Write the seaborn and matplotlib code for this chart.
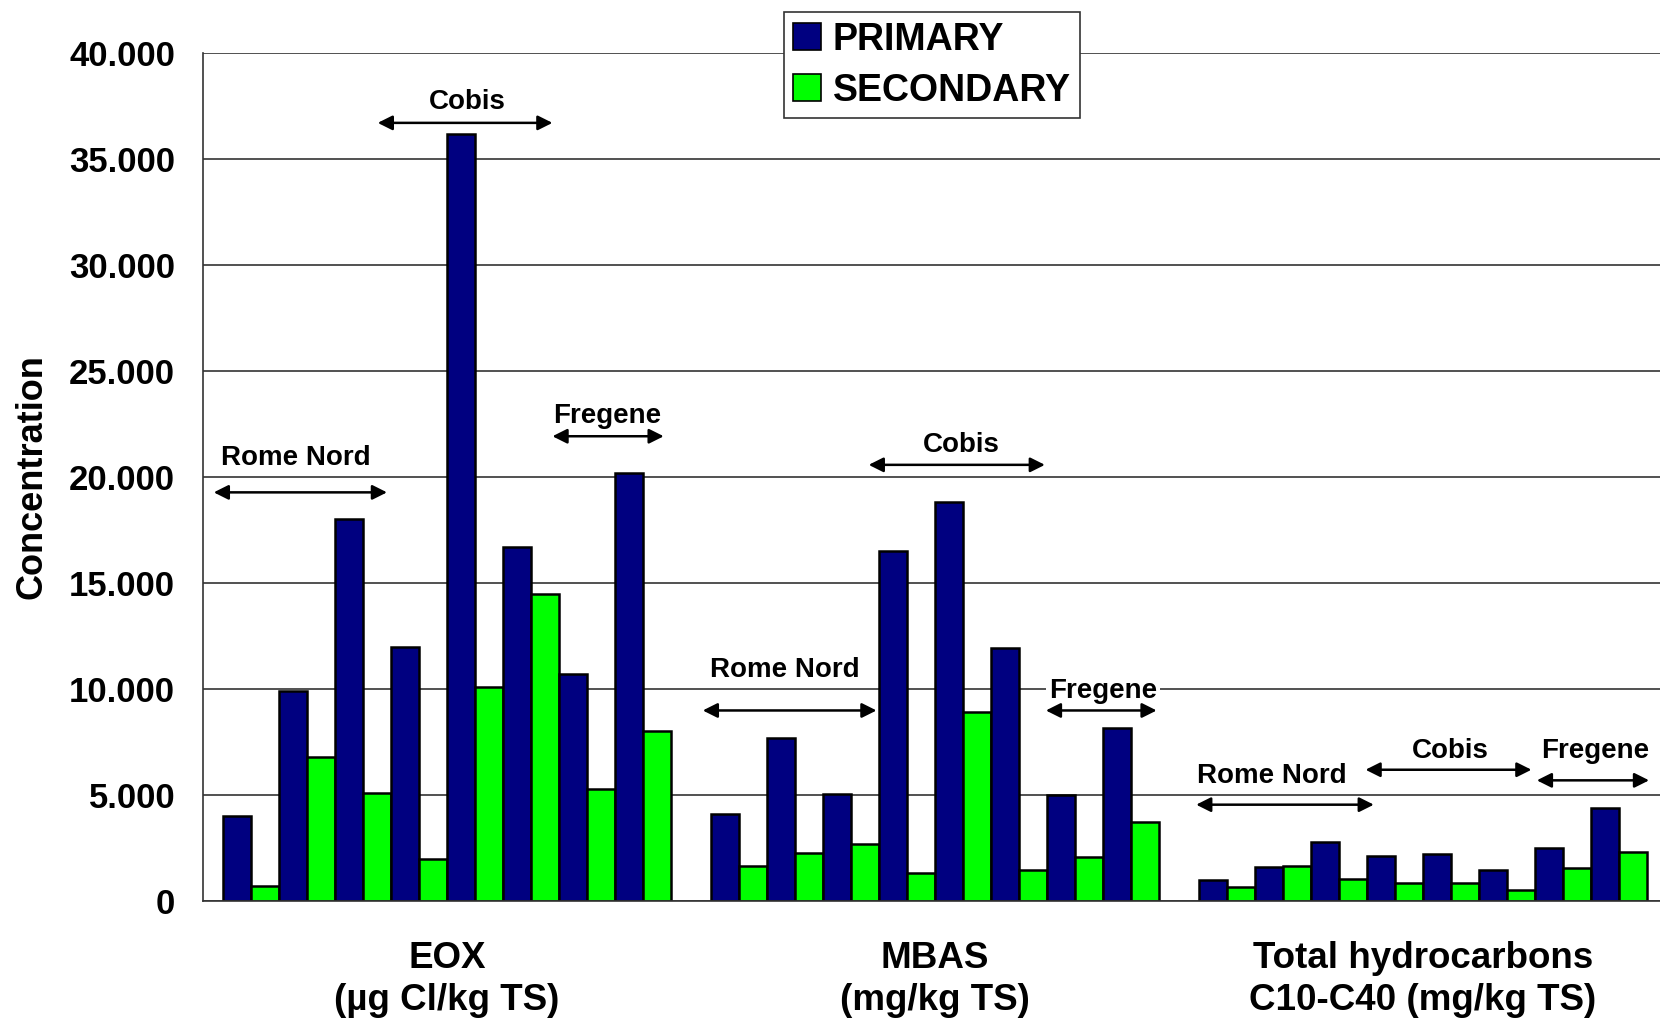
import numpy as np
import pandas as pd
import matplotlib
matplotlib.use("Agg")
import matplotlib.pyplot as plt
import seaborn as sns
from matplotlib.patches import Patch

# ---------------- data ----------------
categories = ["EOX\n(µg Cl/kg TS)", "MBAS\n(mg/kg TS)", "Total hydrocarbons\nC10-C40 (mg/kg TS)"]
series_names = ["PRIMARY", "SECONDARY"]

primary_eox = [4000, 9900, 18000, 12000, 36200, 16700, 10700, 20200]
secondary_eox = [700, 6800, 5100, 2000, 10100, 14500, 5300, 8000]
primary_mbas = [4100, 7700, 5050, 16500, 18800, 11950, 5000, 8150]
secondary_mbas = [1650, 2250, 2680, 1300, 8900, 1450, 2080, 3750]
primary_th = [970, 1620, 2800, 2130, 2200, 1460, 2510, 4410]
secondary_th = [640, 1650, 1030, 830, 870, 510, 1570, 2290]

yticks = [0, 5000, 10000, 15000, 20000, 25000, 30000, 35000, 40000]
ytick_labels = ["0", "5.000", "10.000", "15.000", "20.000", "25.000", "30.000", "35.000", "40.000"]

# site annotations: label, text x, text y, arrow x1, arrow x2, arrow y (data coords)
site_labels = ["Rome Nord", "Cobis", "Fregene",
               "Rome Nord", "Cobis", "Fregene",
               "Rome Nord", "Cobis", "Fregene"]
site_text_x = [-0.309, 0.042, 0.329, 0.693, 1.053, 1.344, 1.689, 2.055, 2.352]
site_text_y = [20875, 37705, 22873, 10887, 21524, 9888, 5893, 7091, 7091]
arrow_x1 = [-0.478, -0.142, 0.216, 0.524, 0.864, 1.227, 1.535, 1.882, 2.233]
arrow_x2 = [-0.123, 0.216, 0.444, 0.880, 1.225, 1.454, 1.899, 2.222, 2.463]
arrow_y = [19277, 36706, 21924, 8989, 20575, 8989, 4545, 6193, 5693]

navy = "#000080"
lime = "#00FF00"

# ---------------- build long table ----------------
primary = [primary_eox, primary_mbas, primary_th]
secondary = [secondary_eox, secondary_mbas, secondary_th]
rows = []
for cat, p, s in zip(categories, primary, secondary):
    for i, (pv, sv) in enumerate(zip(p, s)):
        rows.append(dict(category=cat, bar=f"P{i}", value=pv))
        rows.append(dict(category=cat, bar=f"S{i}", value=sv))
df = pd.DataFrame(rows)
hue_order = [f"{k}{i}" for i in range(len(primary_eox)) for k in "PS"]
palette = {h: (navy if h[0] == "P" else lime) for h in hue_order}

# ---------------- style ----------------
sns.set_style("white")
plt.rcParams["font.family"] = ["Liberation Sans", "DejaVu Sans"]
plt.rcParams["font.weight"] = "bold"
plt.rcParams["text.color"] = "black"
plt.rcParams["axes.labelcolor"] = "black"
plt.rcParams["xtick.color"] = "black"
plt.rcParams["ytick.color"] = "black"

fig = plt.figure(figsize=(16.6, 10.18), dpi=100)
ax = fig.add_axes([0.1223, 0.1149, 0.882, 0.833])

sns.barplot(data=df, x="category", y="value", hue="bar", hue_order=hue_order,
            order=categories, palette=palette, saturation=1, width=0.918,
            dodge=True, edgecolor="black", linewidth=1.8, legend=False,
            errorbar=None, ax=ax)

ax.set_xlim(-0.5, 2.5)
ax.set_ylim(0, 40000)
ax.set_axisbelow(True)
ax.yaxis.grid(True, color="#333333", lw=1.2)
ax.xaxis.grid(False)

ax.set_yticks(yticks)
ax.set_yticklabels(ytick_labels, fontsize=25, fontweight="bold", color="black")
ax.tick_params(axis="y", length=12, width=1.2, color="#333333", labelcolor="black",
               direction="out", pad=8)

ax.set_xticks([-0.5, 0.5, 1.5, 2.5])
ax.set_xticklabels(["", "", "", ""])
ax.set_xticks([0, 1, 2], minor=True)
ax.set_xticklabels(categories, minor=True, fontsize=26.5, fontweight="bold",
                   linespacing=1.24, color="black")
ax.tick_params(axis="x", which="major", length=12, width=1.2, color="#333333", direction="out")
ax.tick_params(axis="x", which="minor", length=0, pad=29, labelcolor="black")

ax.set_xlabel("")
ax.set_ylabel("Concentration", fontsize=26, fontweight="bold", labelpad=14, color="black")

for sp in ["top", "right"]:
    ax.spines[sp].set_visible(False)
for sp in ["left", "bottom"]:
    ax.spines[sp].set_color("#333333")
    ax.spines[sp].set_linewidth(1.2)

for lab, tx, ty, x1, x2, ay in zip(site_labels, site_text_x, site_text_y, arrow_x1, arrow_x2, arrow_y):
    ax.text(tx, ty, lab, ha="center", va="center", fontsize=20, fontweight="bold",
            color="black", bbox=dict(facecolor="white", edgecolor="none", pad=2), zorder=5)
    ax.annotate("", xy=(x2, ay), xytext=(x1, ay),
                arrowprops=dict(arrowstyle="<|-|>", color="black", lw=1.8,
                                mutation_scale=22, shrinkA=0, shrinkB=0), zorder=5)

handles = [Patch(facecolor=navy, edgecolor="black", lw=1.2),
           Patch(facecolor=lime, edgecolor="black", lw=1.2)]
leg = ax.legend(handles, series_names, loc="upper left", bbox_to_anchor=(0.384, 1.07),
                frameon=True, fancybox=False, framealpha=1,
                edgecolor="#333333", handlelength=0.75, handleheight=0.75,
                handletextpad=0.3, borderpad=0.25, labelspacing=0.4,
                prop={"weight": "bold", "size": 27})
leg.get_frame().set_linewidth(1.2)
for t in leg.get_texts():
    t.set_color("black")

fig.savefig("out.png", dpi=100)
